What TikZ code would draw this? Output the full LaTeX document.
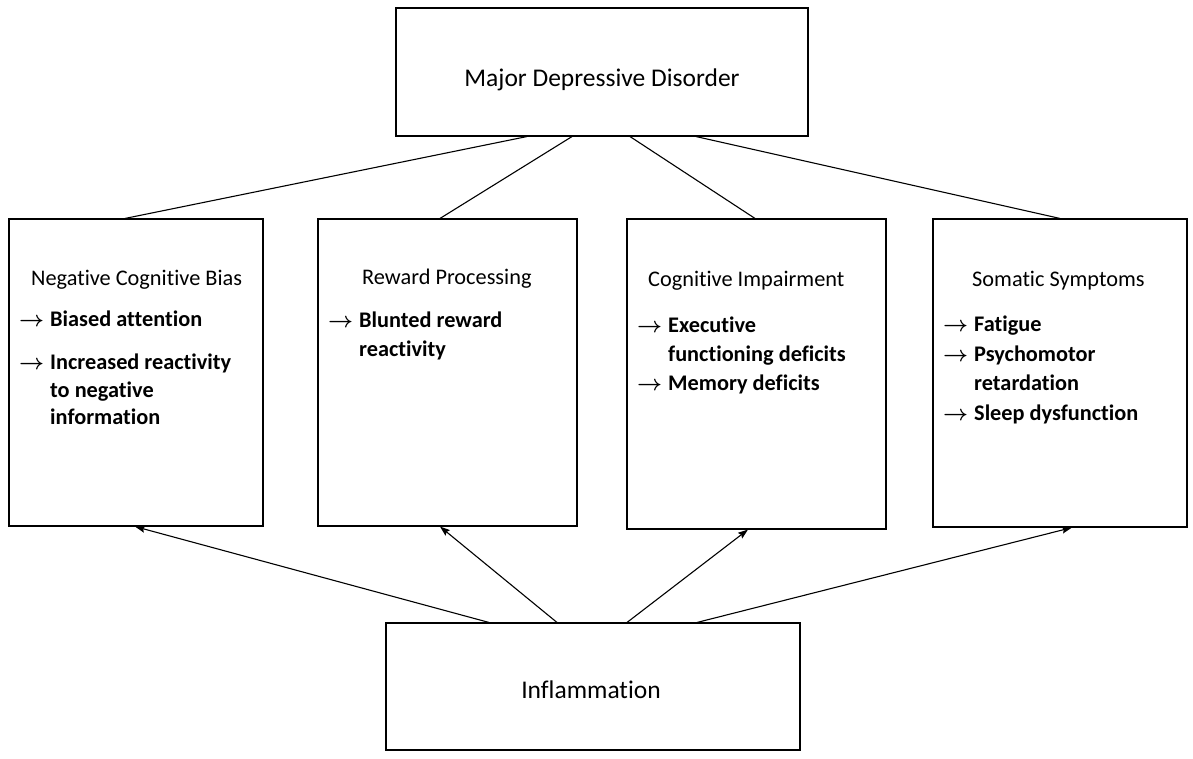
\documentclass[tikz,border=0pt]{standalone}
\usepackage{fontspec}
\setmainfont{Carlito}[Ligatures=NoCommon]
\usetikzlibrary{arrows.meta}
\newcommand{\itemarrow}{\resizebox{25pt}{!}{\boldmath$\rightarrow$}}
\begin{document}
\begin{tikzpicture}[x=1pt,y=-1pt,
  box/.style={draw, line width=1.1pt, inner sep=0pt},
  ttl/.style={anchor=base, inner sep=0pt, font=\fontsize{25.5}{30}\selectfont},
  hd/.style={anchor=base west, inner sep=0pt, font=\fontsize{22.3}{27}\selectfont},
  it/.style={anchor=base west, inner sep=0pt, font=\fontsize{22.3}{27}\selectfont\bfseries},
  ar/.style={anchor=base west, inner sep=0pt, font=\fontsize{22.3}{27}\selectfont},
  ln/.style={line width=1.1pt},
  arr/.style={line width=1.1pt, -{Stealth[length=10pt,width=7pt,inset=1.5pt]}}]
\path[use as bounding box] (0,0) rectangle (1193,759);
% main boxes
\node[box, minimum width=412pt, minimum height=128pt] (mdd) at (602,72) {};
\node[ttl] (mddt) at (602,87) {Major Depressive Disorder};
\node[box, minimum width=414pt, minimum height=127pt] (inf) at (593,686.5) {};
\node[ttl] (inft) at (591,698) {Inflammation};
\node[box, minimum width=254pt, minimum height=307pt] (b1) at (136,372.5) {};
\node[box, minimum width=259pt, minimum height=307pt] (b2) at (447.5,372.5) {};
\node[box, minimum width=259pt, minimum height=310pt] (b3) at (756.5,374) {};
\node[box, minimum width=254pt, minimum height=308pt] (b4) at (1060,373) {};
% box 1 text
\node[hd] (h1) at (31,285) {Negative Cognitive Bias};
\node[ar] (a11) at (19,326) {\itemarrow};
\node[it] (t11) at (50,326) {Biased attention};
\node[ar] (a12) at (19,369) {\itemarrow};
\node[it] (t12) at (50,369) {Increased reactivity};
\node[it] (t13) at (50,397) {to negative};
\node[it] (t14) at (50,424) {information};
% box 2 text
\node[hd] (h2) at (362,284) {Reward Processing};
\node[ar] (a21) at (328,327) {\itemarrow};
\node[it] (t21) at (359,327) {Blunted reward};
\node[it] (t22) at (359,356) {reactivity};
% box 3 text
\node[hd] (h3) at (648,287) {Cognitive Impairment};
\node[ar] (a31) at (637,332) {\itemarrow};
\node[it] (t31) at (668,332) {Executive};
\node[it] (t32) at (668,361) {functioning deficits};
\node[ar] (a33) at (637,390) {\itemarrow};
\node[it] (t33) at (668,390) {Memory deficits};
% box 4 text
\node[hd] (h4) at (972,287) {Somatic Symptoms};
\node[ar] (a41) at (943,331) {\itemarrow};
\node[it] (t41) at (974,331) {Fatigue};
\node[ar] (a42) at (943,361) {\itemarrow};
\node[it] (t42) at (974,361) {Psychomotor};
\node[it] (t43) at (974,390) {retardation};
\node[ar] (a44) at (943,420) {\itemarrow};
\node[it] (t44) at (974,420) {Sleep dysfunction};
% lines from MDD
\draw[ln] ([xshift=-75pt]mdd.south) -- ([xshift=-11pt]b1.north);
\draw[ln] ([xshift=-30pt]mdd.south) -- ([xshift=-7.5pt]b2.north);
\draw[ln] ([xshift=28pt]mdd.south) -- ([xshift=-1.5pt]b3.north);
\draw[ln] ([xshift=94pt]mdd.south) -- (b4.north);
% arrows from inflammation
\draw[arr] ([xshift=-104pt]inf.north) -- ([xshift=-1pt]b1.south);
\draw[arr] ([xshift=-36pt]inf.north) -- ([xshift=-7.5pt]b2.south);
\draw[arr] ([xshift=34pt]inf.north) -- ([xshift=-8.5pt]b3.south);
\draw[arr] ([xshift=104pt]inf.north) -- ([xshift=12pt]b4.south);
\end{tikzpicture}
\end{document}
